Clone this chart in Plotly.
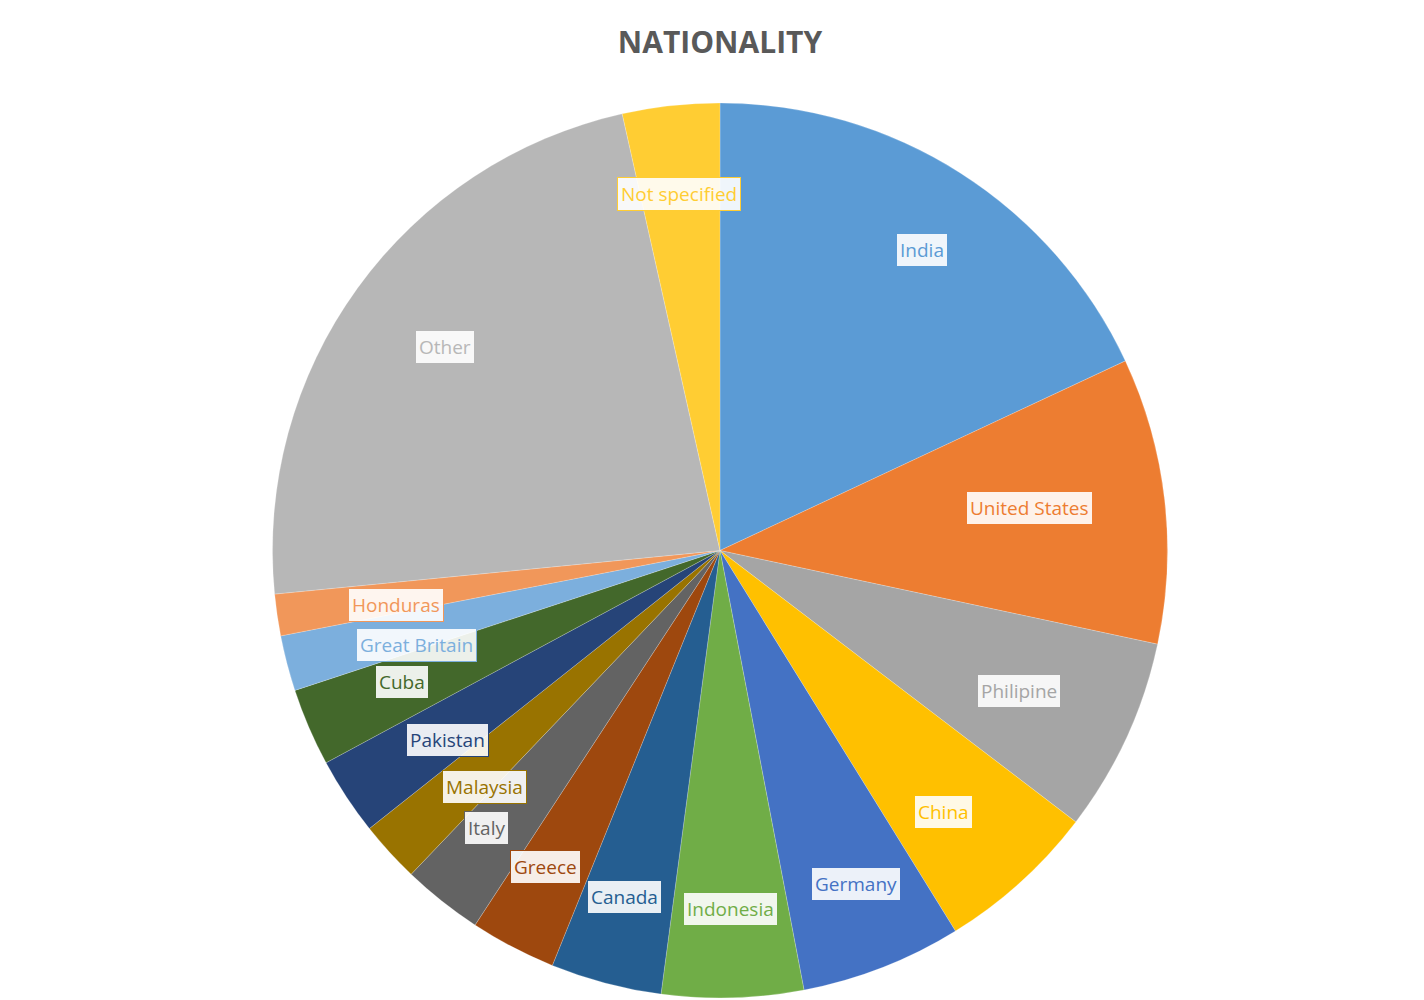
import numpy as np
import plotly.graph_objects as go

countries = ['India', 'United States', 'Philipine', 'China', 'Germany', 'Indonesia',
             'Canada', 'Greece', 'Italy', 'Malaysia', 'Pakistan', 'Cuba',
             'Great Britain', 'Honduras', 'Other', 'Not specified']
shares = [18.0, 10.3, 7.0, 5.8, 5.8, 5.1, 4.0, 3.1, 2.9, 2.2, 2.8, 2.8, 2.0, 1.5, 23.0, 3.5]
colors = ['#5B9BD5', '#ED7D31', '#A5A5A5', '#FFC000', '#4472C4', '#70AD47',
          '#255E91', '#9E480E', '#636363', '#997300', '#264478', '#43682B',
          '#7CAFDD', '#F1975A', '#B7B7B7', '#FFCD33']

W, H = 1424, 1000
dom_y = [0.01, 0.905]

fig = go.Figure(go.Pie(
    labels=countries,
    values=shares,
    sort=False,
    direction='clockwise',
    rotation=0,
    textinfo='none',
    hoverinfo='label+percent',
    marker=dict(colors=colors, line=dict(color='rgba(255,255,255,0.35)', width=0.6)),
    domain=dict(x=[0, 1], y=dom_y),
    showlegend=False,
))

# label boxes placed at each slice's mid-angle
R = min(W, (dom_y[1] - dom_y[0]) * H) / 2
cx, cy = W / 2, H * (1 - (dom_y[0] + dom_y[1]) / 2)
total = sum(shares)
cum = np.cumsum([0] + shares)
annotations = []
for i, name in enumerate(countries):
    mid = (cum[i] + cum[i + 1]) / 2 / total * 2 * np.pi
    frac = 0.84
    px = cx + frac * R * np.sin(mid)
    py = cy - frac * R * np.cos(mid)
    annotations.append(dict(
        x=px / W, y=1 - py / H, xref='paper', yref='paper',
        text=name, showarrow=False,
        font=dict(family='Open Sans', size=19, color=colors[i]),
        bgcolor='rgba(255,255,255,0.9)', bordercolor=colors[i],
        borderwidth=1, borderpad=3,
    ))

fig.update_layout(
    width=W, height=H,
    title=dict(text='<b>NATIONALITY</b>', x=0.5, y=0.966, xanchor='center', yanchor='middle',
               font=dict(family='Open Sans', size=30, color='#595959')),
    margin=dict(l=0, r=0, t=0, b=0),
    paper_bgcolor='white',
    annotations=annotations,
)

fig.write_html('out.html')
